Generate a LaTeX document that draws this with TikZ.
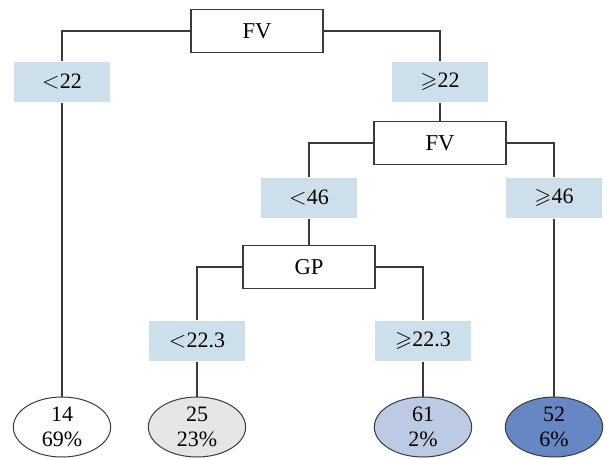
\documentclass[tikz,border=0pt]{standalone}
\usepackage{amssymb}
\usepackage{fontspec}
\setmainfont{Liberation Serif}
\usetikzlibrary{shapes.geometric}
\definecolor{condfill}{HTML}{CCDFEA}
\definecolor{leafgray}{HTML}{E5E5E5}
\definecolor{leaflight}{HTML}{BDCAE3}
\definecolor{leafdark}{HTML}{6687C3}
\definecolor{edgegray}{HTML}{3A3A3A}
\begin{document}
\begin{tikzpicture}
	[
	x=0.75pt, y=-0.75pt,
	split/.style={draw = edgegray, line width = 1pt, fill = white, shape = rectangle, minimum width = 99pt, minimum height = 32pt, inner sep = 0pt, font = \fontsize{17}{20}\selectfont},
	cond/.style={fill = condfill, shape = rectangle, minimum width = 71.5pt, minimum height = 30.5pt, inner sep = 0pt, font = \fontsize{16.5}{19}\selectfont},
	leaf/.style={draw = edgegray, line width = 0.75pt, shape = ellipse, minimum width = 73pt, minimum height = 45pt, inner sep = 0pt, align = center, font = \fontsize{16.5}{19}\selectfont},
	link/.style={draw = edgegray, line width = 0.85pt}
	]
	\useasboundingbox (0,0) rectangle (605,459);
	
	% Split nodes
	\node[split](FVa) at (257, 31){FV};
	\node[split](FVb) at (440, 143){FV};
	\node[split](GP) at (309, 267){GP};
	
	% Conditions
	\node[cond](lt22) at (62, 82){$<$22};
	\node[cond](ge22) at (440, 82){$\geqslant$22};
	\node[cond](lt46) at (309, 198){$<$46};
	\node[cond](ge46) at (554, 198){$\geqslant$46};
	\node[cond](lt223) at (197, 341){$<$22.3};
	\node[cond](ge223) at (423, 341){$\geqslant$22.3};
	
	% Leaves
	\node[leaf](L1) at (62, 427){14\\69\%};
	\node[leaf, fill = leafgray](L2) at (197, 427){25\\23\%};
	\node[leaf, fill = leaflight](L3) at (423, 427){61\\2\%};
	\node[leaf, fill = leafdark](L4) at (554, 427){52\\6\%};
	
	\draw[link] (FVa.west) -| (lt22.north);
	\draw[link] (FVa.east) -| (ge22.north);
	\draw[link] (lt22.south) -- (L1.north);
	\draw[link] (ge22.south) -- (FVb.north);
	
	\draw[link] (FVb.west) -| (lt46.north);
	\draw[link] (FVb.east) -| (ge46.north);
	\draw[link] (lt46.south) -- (GP.north);
	\draw[link] (ge46.south) -- (L4.north);
	
	\draw[link] (GP.west) -| (lt223.north);
	\draw[link] (GP.east) -| (ge223.north);
	\draw[link] (lt223.south) -- (L2.north);
	\draw[link] (ge223.south) -- (L3.north);
\end{tikzpicture}
\end{document}
